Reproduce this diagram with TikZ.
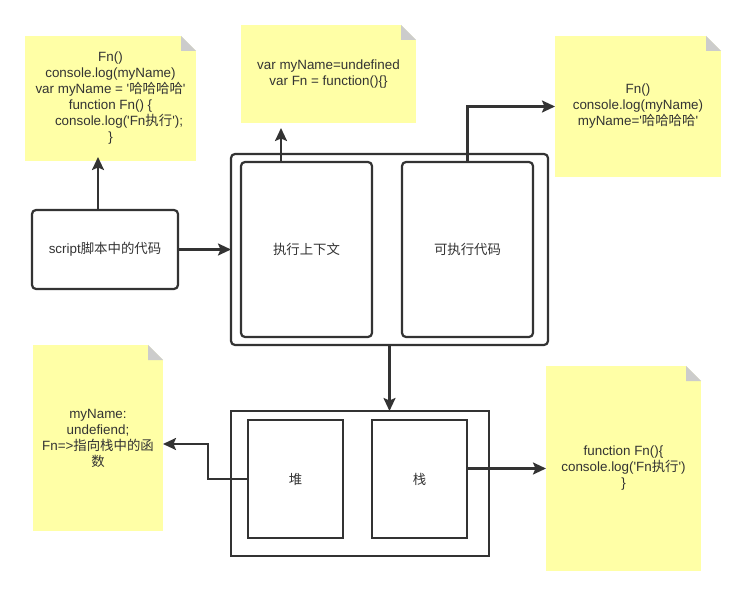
\documentclass[tikz,border=0pt]{standalone}
\usepackage{fontspec}
\setmainfont{Liberation Sans}
\newfontfamily\cjk{Noto Sans CJK SC}
\usetikzlibrary{calc,arrows.meta}
\definecolor{notec}{RGB}{255,255,166}
\definecolor{foldc}{RGB}{204,204,204}
\definecolor{linec}{RGB}{51,51,51}
\definecolor{textc}{RGB}{51,51,51}
\newcommand\sq{\textquotesingle}
\newcommand\foldnote[1]{%
  \fill[white] ($(#1.north east)+(-15,0)$) -- (#1.north east) -- ($(#1.north east)+(0,15)$) -- cycle;
  \fill[foldc] ($(#1.north east)+(-15,0)$) -- ($(#1.north east)+(-15,15)$) -- ($(#1.north east)+(0,15)$) -- cycle;}
\tikzset{
  txt/.style={font=\fontsize{13.4pt}{16pt}\selectfont, text=textc, align=center},
  rbox/.style={txt, draw=linec, line width=2.2pt, rounded corners=4pt, inner sep=0pt, outer sep=0pt},
  sbox/.style={txt, draw=linec, line width=2.2pt, inner sep=0pt, outer sep=0pt},
  notebox/.style={txt, fill=notec, inner sep=0pt, outer sep=0pt},
  conn/.style={draw=linec, line width=2.2pt, -{Stealth[length=13pt,width=12pt,inset=2.5pt]}}
}
\begin{document}
\begin{tikzpicture}[x=1pt,y=-1pt]
\fill[white] (0,0) rectangle (745,596);
\useasboundingbox (0,0) rectangle (745,596);

% notes
\node[notebox, minimum width=171pt, minimum height=125pt] (n1) at (110.5,98.5)
  {Fn()\\console.log(myName)\\var myName = \sq{\cjk 哈哈哈哈}\sq\\function Fn() \{\\\hspace*{17pt}console.log(\sq Fn{\cjk 执行}\sq);\\\}};
\foldnote{n1}
\node[notebox, minimum width=175pt, minimum height=98pt] (n2) at (328.5,74)
  {var myName=undefined\\var Fn = function()\{\}};
\foldnote{n2}
\node[notebox, minimum width=166pt, minimum height=141pt] (n3) at (638,106.5)
  {Fn()\\console.log(myName)\\myName=\sq{\cjk 哈哈哈哈}\sq};
\foldnote{n3}
\node[notebox, minimum width=130pt, minimum height=186pt] (n4) at (98,438)
  {myName:\\undefiend;\\Fn=>{\cjk 指向栈中的函}\\{\cjk 数}};
\foldnote{n4}
\node[notebox, minimum width=155pt, minimum height=205pt] (n5) at (623.5,468.5)
  {function Fn()\{\\console.log(\sq Fn{\cjk 执行}\sq)\\\}};
\foldnote{n5}

% boxes
\node[rbox, minimum width=146pt, minimum height=79pt] (script) at (105,249.5) {script{\cjk 脚本中的代码}};
\node[rbox, minimum width=317pt, minimum height=191pt] (outer) at (389.5,249.5) {};
\node[rbox, minimum width=131pt, minimum height=175pt] (ctx) at (306.5,249.5) {\cjk 执行上下文};
\node[rbox, minimum width=131pt, minimum height=175pt] (exec) at (467.5,249.5) {\cjk 可执行代码};
\node[sbox, minimum width=258pt, minimum height=145pt] (bottom) at (360,483.5) {};
\node[sbox, minimum width=95pt, minimum height=118pt] (heap) at (295.5,479) {\cjk 堆};
\node[sbox, minimum width=95pt, minimum height=118pt] (stack) at (419.5,479) {\cjk 栈};

% connectors
\draw[conn] (script.east) -- (outer.west);
\coordinate (s1) at ($(script.north)+(-7,0)$);
\draw[conn, shorten >=-4pt] (s1) -- (s1 |- n1.south);
\coordinate (c1) at ($(ctx.north)+(-25.5,0)$);
\draw[conn, shorten >=5pt] (c1) -- (c1 |- n2.south);
\draw[conn] (exec.north) |- (n3.west);
\draw[conn] (outer.south) -- (outer.south |- bottom.north);
\draw[conn] (heap.west) -- ++(-40,0) |- ($(n4.east)+(0,6)$);
\draw[conn] (stack.east |- n5.west) -- (n5.west);
\end{tikzpicture}
\end{document}
